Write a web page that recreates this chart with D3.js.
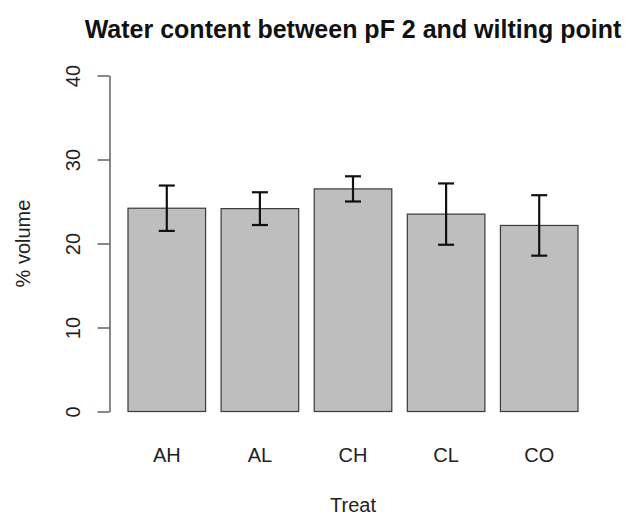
<!DOCTYPE html>
<html>
<head>
<meta charset="utf-8">
<script src="https://cdn.jsdelivr.net/npm/d3@7"></script>
<style>
  body { margin: 0; background: #fff; }
  text { font-family: "Liberation Sans", Arial, sans-serif; }
</style>
</head>
<body>
<div id="chart"></div>
<script>
// data
const treatments = ['AH', 'AL', 'CH', 'CL', 'CO'];
const means = [24.2, 24.15, 26.5, 23.5, 22.15];
const errors = [2.7, 1.95, 1.5, 3.65, 3.6];
const yTicks = [0, 10, 20, 30, 40];

const width = 626;
const height = 517;
const margin = { left: 109.5, top: 75.5, right: 48, bottom: 105.5 };
const innerWidth = width - margin.left - margin.right;
const innerHeight = height - margin.top - margin.bottom;

const svg = d3.select('#chart')
  .append('svg')
  .attr('width', width)
  .attr('height', height);

const g = svg.append('g')
  .attr('transform', `translate(${margin.left},${margin.top})`);

// bars sit from 128 to 578 in page coords, R space = 0.2
const xScale = d3.scaleBand()
  .domain(treatments)
  .range([128 - margin.left, 578 - margin.left])
  .paddingInner(0.2 / 1.2)
  .paddingOuter(0);

const yScale = d3.scaleLinear()
  .domain([0, 40])
  .range([innerHeight, 0]);

// bars
g.selectAll('rect.bar')
  .data(treatments)
  .join('rect')
  .attr('class', 'bar')
  .attr('x', d => xScale(d))
  .attr('width', xScale.bandwidth())
  .attr('y', (d, i) => yScale(means[i]))
  .attr('height', (d, i) => innerHeight - yScale(means[i]))
  .attr('fill', '#bebebe')
  .attr('stroke', '#3a3a3a')
  .attr('stroke-width', 1.2);

// error bars
const capHalf = 8;
const err = g.selectAll('g.err')
  .data(treatments)
  .join('g')
  .attr('class', 'err')
  .attr('stroke', '#111')
  .attr('stroke-width', 2.2);

err.append('line')
  .attr('x1', d => xScale(d) + xScale.bandwidth() / 2)
  .attr('x2', d => xScale(d) + xScale.bandwidth() / 2)
  .attr('y1', (d, i) => yScale(means[i] + errors[i]))
  .attr('y2', (d, i) => yScale(means[i] - errors[i]));

err.append('line')
  .attr('x1', d => xScale(d) + xScale.bandwidth() / 2 - capHalf)
  .attr('x2', d => xScale(d) + xScale.bandwidth() / 2 + capHalf)
  .attr('y1', (d, i) => yScale(means[i] + errors[i]))
  .attr('y2', (d, i) => yScale(means[i] + errors[i]));

err.append('line')
  .attr('x1', d => xScale(d) + xScale.bandwidth() / 2 - capHalf)
  .attr('x2', d => xScale(d) + xScale.bandwidth() / 2 + capHalf)
  .attr('y1', (d, i) => yScale(means[i] - errors[i]))
  .attr('y2', (d, i) => yScale(means[i] - errors[i]));

// y axis, R style with rotated labels
const yAxis = g.append('g')
  .call(d3.axisLeft(yScale).tickValues(yTicks).tickSize(12).tickSizeOuter(0).tickPadding(0));

yAxis.select('.domain').attr('stroke', '#555').attr('stroke-width', 1.4);
yAxis.selectAll('.tick line').attr('stroke', '#555').attr('stroke-width', 1.4);
yAxis.selectAll('.tick text')
  .attr('x', 0)
  .attr('dy', 0)
  .attr('text-anchor', 'middle')
  .attr('transform', 'translate(-30,0) rotate(-90)')
  .attr('fill', '#222')
  .style('font-size', '20px')
  .style('font-family', '"Liberation Sans", Arial, sans-serif');

// x labels, no axis line in barplot
g.selectAll('text.xlab')
  .data(treatments)
  .join('text')
  .attr('class', 'xlab')
  .attr('x', d => xScale(d) + xScale.bandwidth() / 2)
  .attr('y', innerHeight + 50.5)
  .attr('text-anchor', 'middle')
  .attr('fill', '#222')
  .style('font-size', '20px')
  .text(d => d);

const centerX = (128 + 578) / 2;

// title
svg.append('text')
  .attr('x', centerX)
  .attr('y', 38)
  .attr('text-anchor', 'middle')
  .attr('fill', '#111')
  .style('font-size', '25px')
  .style('font-weight', 'bold')
  .text('Water content between pF 2 and wilting point');

// x axis title
svg.append('text')
  .attr('x', centerX)
  .attr('y', 512)
  .attr('text-anchor', 'middle')
  .attr('fill', '#222')
  .style('font-size', '20px')
  .text('Treat');

// y axis title
svg.append('text')
  .attr('text-anchor', 'middle')
  .attr('transform', `translate(30,${margin.top + innerHeight / 2}) rotate(-90)`)
  .attr('fill', '#222')
  .style('font-size', '20px')
  .text('% volume');
</script>
</body>
</html>
